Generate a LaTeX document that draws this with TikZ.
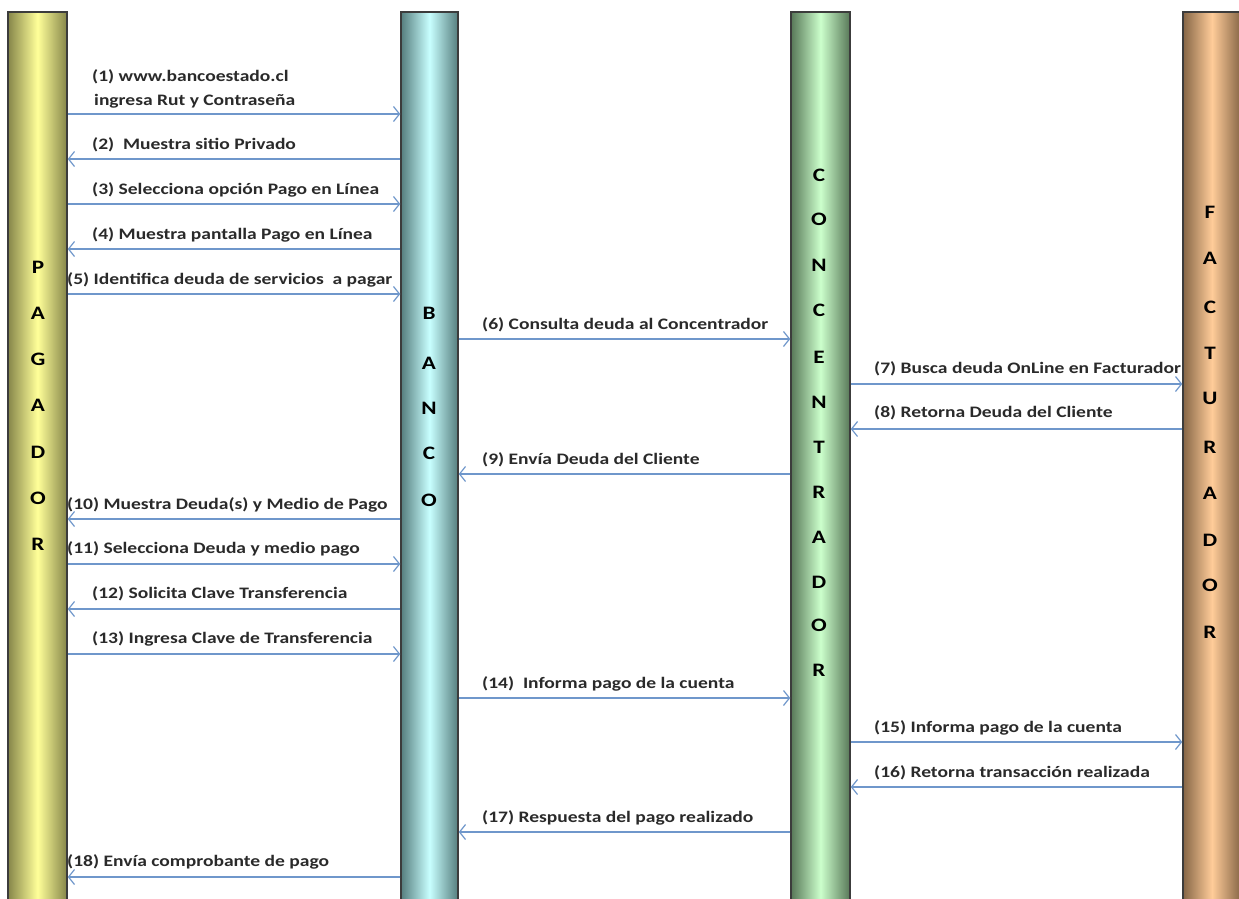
\documentclass[tikz,border=0pt]{standalone}
\usepackage{fontspec}
\usepackage{graphicx}
\setmainfont{Carlito}
\usetikzlibrary{arrows.meta}
\definecolor{arrowblue}{HTML}{6F97CB}
\definecolor{barborder}{HTML}{3C3C3C}
\definecolor{txt}{HTML}{2A2A2A}
\definecolor{yDark}{HTML}{86864A}
\definecolor{yLight}{HTML}{FFFF99}
\definecolor{cDark}{HTML}{567E7E}
\definecolor{cLight}{HTML}{C8FFFF}
\definecolor{gDark}{HTML}{587858}
\definecolor{gLight}{HTML}{CCFFCC}
\definecolor{oDark}{HTML}{866646}
\definecolor{oLight}{HTML}{FFCC99}
\newcommand{\wide}[1]{\scalebox{1.22}[1]{#1}}
\begin{document}
\begin{tikzpicture}[x=1pt,y=-1pt,
  bar/.style={draw=barborder, line width=1.5pt, minimum height=893pt, inner sep=0pt},
  letter/.style={font=\fontsize{19}{19}\selectfont\bfseries, text=black, inner sep=0pt},
  lbl/.style={anchor=west, font=\fontsize{16}{16}\selectfont\bfseries, text=txt, inner sep=0pt},
  msg/.style={draw=arrowblue, line width=1.6pt, -{Straight Barb[length=6pt,width=15pt,line width=1.2pt]}}]
\useasboundingbox[fill=white] (0,0) rectangle (1239,899);

% lifelines
\node[bar, minimum width=59pt, left color=yDark, right color=yDark, middle color=yLight] (pag) at (37.5,458.5) {};
\node[bar, minimum width=57pt, left color=cDark, right color=cDark, middle color=cLight] (ban) at (429.5,458.5) {};
\node[bar, minimum width=59pt, left color=gDark, right color=gDark, middle color=gLight] (con) at (820.5,458.5) {};
\node[bar, minimum width=58pt, left color=oDark, right color=oDark, middle color=oLight] (fac) at (1212,458.5) {};

% vertical names
\foreach \l/\y [count=\i] in {P/267,A/313,G/359,A/405,D/452,O/498,R/544}
  \node[letter] (pagl\i) at (38,\y) {\wide{\l}};
\foreach \l/\y [count=\i] in {B/313,A/363,N/408,C/453,O/500}
  \node[letter] (banl\i) at (429,\y) {\wide{\l}};
\foreach \l/\y [count=\i] in {C/175,O/219,N/265,C/310,E/357,N/402,T/447,R/492,A/537,D/582,O/625,R/670}
  \node[letter] (conl\i) at (819,\y) {\wide{\l}};
\foreach \l/\y [count=\i] in {F/212,A/258,C/307,T/353,U/398,R/447,A/493,D/540,O/585,R/632}
  \node[letter] (facl\i) at (1210,\y) {\wide{\l}};

% messages
\node[lbl] (t1a) at (92,77) {\wide{(1) www.bancoestado.cl}};
\node[lbl] (t1b) at (94,101) {\wide{ingresa Rut y Contraseña}};
\draw[msg] (pag.east |- 0,114) -- (ban.west |- 0,114);

\node[lbl] (t2) at (92,145) {\wide{(2)\ \ Muestra sitio Privado}};
\draw[msg] (ban.west |- 0,159) -- (pag.east |- 0,159);

\node[lbl] (t3) at (92,190) {\wide{(3) Selecciona opción Pago en Línea}};
\draw[msg] (pag.east |- 0,204) -- (ban.west |- 0,204);

\node[lbl] (t4) at (92,235) {\wide{(4) Muestra pantalla Pago en Línea}};
\draw[msg] (ban.west |- 0,249) -- (pag.east |- 0,249);

\node[lbl] (t5) at (67,280) {\wide{(5) Identifica deuda de servicios\ \ a pagar}};
\draw[msg] (pag.east |- 0,294) -- (ban.west |- 0,294);

\node[lbl] (t6) at (482,325) {\wide{(6) Consulta deuda al Concentrador}};
\draw[msg] (ban.east |- 0,339) -- (con.west |- 0,339);

\node[lbl] (t7) at (874,369) {\wide{(7) Busca deuda OnLine en Facturador}};
\draw[msg] (con.east |- 0,384) -- (fac.west |- 0,384);

\node[lbl] (t8) at (874,413) {\wide{(8) Retorna Deuda del Cliente}};
\draw[msg] (fac.west |- 0,429) -- (con.east |- 0,429);

\node[lbl] (t9) at (482,460) {\wide{(9) Envía Deuda del Cliente}};
\draw[msg] (con.west |- 0,474) -- (ban.east |- 0,474);

\node[lbl] (t10) at (67,505) {\wide{(10) Muestra Deuda(s) y Medio de Pago}};
\draw[msg] (ban.west |- 0,519) -- (pag.east |- 0,519);

\node[lbl] (t11) at (67,549) {\wide{(11) Selecciona Deuda y medio pago}};
\draw[msg] (pag.east |- 0,564) -- (ban.west |- 0,564);

\node[lbl] (t12) at (92,594) {\wide{(12) Solicita Clave Transferencia}};
\draw[msg] (ban.west |- 0,609) -- (pag.east |- 0,609);

\node[lbl] (t13) at (92,639) {\wide{(13) Ingresa Clave de Transferencia}};
\draw[msg] (pag.east |- 0,654) -- (ban.west |- 0,654);

\node[lbl] (t14) at (482,684) {\wide{(14)\ \ Informa pago de la cuenta}};
\draw[msg] (ban.east |- 0,698) -- (con.west |- 0,698);

\node[lbl] (t15) at (874,728) {\wide{(15) Informa pago de la cuenta}};
\draw[msg] (con.east |- 0,742) -- (fac.west |- 0,742);

\node[lbl] (t16) at (874,773) {\wide{(16) Retorna transacción realizada}};
\draw[msg] (fac.west |- 0,787) -- (con.east |- 0,787);

\node[lbl] (t17) at (482,818) {\wide{(17) Respuesta del pago realizado}};
\draw[msg] (con.west |- 0,832) -- (ban.east |- 0,832);

\node[lbl] (t18) at (67,862) {\wide{(18) Envía comprobante de pago}};
\draw[msg] (ban.west |- 0,877) -- (pag.east |- 0,877);
\end{tikzpicture}
\end{document}
